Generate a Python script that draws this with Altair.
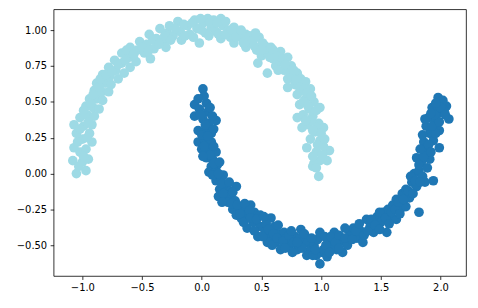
import altair as alt
import pandas as pd

# Upper (light) moon, class 1
light_x = [-1.05, -1.08, -0.97, -1.00, -0.95, -1.02, -1.07, -0.97, -0.92, -1.00, -1.05, -0.94, -1.07, -0.99, -0.92,
           -1.02, -0.96, -0.90, -0.97, -0.91, -0.86,
           -0.94, -0.88, -0.83, -0.90, -0.84, -0.78, -0.88, -0.81, -0.76, -0.83, -0.77, -0.70, -0.78, -0.72, -0.65,
           -0.73, -0.67, -0.60, -0.67, -0.61, -0.55,
           -0.60, -0.54, -0.48, -0.43, -0.52, -0.46, -0.40, -0.44, -0.38, -0.32, -0.35, -0.29, -0.30, -0.24, -0.27,
           -0.20, -0.18, -0.17, -0.12, -0.10, -0.06, -0.04, -0.02, 0.01, 0.03, 0.05, 0.08, 0.10, 0.12, 0.16, 0.16,
           0.18, 0.22, 0.24, 0.27, 0.27, 0.31,
           0.34, 0.37, 0.37, 0.41, 0.44, 0.48, 0.46, 0.50, 0.47, 0.53, 0.55, 0.58, 0.55, 0.60, 0.62, 0.66, 0.66,
           0.69, 0.72, 0.72, 0.72, 0.75, 0.76, 0.80, 0.78, 0.83, 0.87, 0.84, 0.80, 0.91, 0.87, 0.82, 0.94, 0.90,
           0.80, 0.99, 0.85, 0.93, 0.98, 0.89, 0.84, 1.02, 0.95, 0.99, 0.91, 0.88, 1.07, 1.05, 0.96, 1.05, 0.99,
           0.94, 0.93, 0.98,
           -1.03, -0.99, -1.04, -0.96, -1.02, -0.95, -0.99, -0.93, -0.91, -0.86, -0.85, -0.80, -0.75, -0.70,
           -0.64, -0.63, -0.57, -0.50, -0.45, -0.41, -0.36, -0.31, -0.26, -0.22, -0.15, -0.14, -0.08, -0.07,
           -0.01, 0.00, 0.06, 0.07, 0.13, 0.14, 0.20, 0.20, 0.25, 0.29, 0.33, 0.35, 0.40, 0.43, 0.45, 0.51,
           0.50, 0.57, 0.60, 0.63, 0.64, 0.68, 0.70, 0.74, 0.77, 0.79, 0.82, 0.86, 0.88, 0.85, 0.92, 0.89,
           0.96, 0.92, 0.87, 0.96, 1.00, 0.93, 0.97, 1.02, 0.93, 1.01, 0.96, 1.03]
light_y = [0.00, 0.09, 0.02, 0.08, 0.10, 0.15, 0.18, 0.17, 0.22, 0.24, 0.28, 0.28, 0.34, 0.33, 0.34,
           0.39, 0.41, 0.40, 0.47, 0.46, 0.45,
           0.52, 0.52, 0.51, 0.58, 0.57, 0.57, 0.63, 0.63, 0.62, 0.69, 0.68, 0.66, 0.74, 0.72, 0.70,
           0.79, 0.77, 0.74, 0.84, 0.81, 0.78,
           0.88, 0.86, 0.84, 0.80, 0.92, 0.90, 0.87, 0.97, 0.94, 0.92, 1.01, 0.98, 0.88, 0.96, 1.03,
           1.06, 0.99, 0.93, 1.03, 0.97, 1.07, 1.01, 0.91, 1.05, 0.98, 1.08, 1.02, 1.07, 0.99, 1.08, 0.94,
           1.03, 1.00, 0.95, 1.02, 0.91, 0.98,
           0.95, 0.97, 0.88, 0.92, 0.89, 0.95, 0.86, 0.82, 0.77, 0.89, 0.84, 0.88, 0.70, 0.80, 0.75, 0.85, 0.78,
           0.72, 0.81, 0.66, 0.60, 0.75, 0.67, 0.70, 0.62, 0.66, 0.64, 0.58, 0.55, 0.59, 0.52, 0.48, 0.50, 0.45,
           0.39, 0.46, 0.41, 0.40, 0.35, 0.34, 0.32, 0.32, 0.29, 0.23, 0.24, 0.18, 0.16, 0.16, 0.15, 0.09, 0.09,
           0.07, 0.05, -0.02,
           0.05, 0.12, 0.22, 0.25, 0.31, 0.36, 0.44, 0.49, 0.55, 0.60, 0.66, 0.69, 0.71, 0.76,
           0.79, 0.86, 0.83, 0.88, 0.85, 0.93, 0.90, 0.96, 0.93, 1.01, 1.04, 0.96, 1.05, 0.95,
           1.08, 1.00, 0.96, 1.05, 1.05, 0.97, 1.06, 0.97, 1.00, 0.95, 1.00, 0.91, 0.96, 0.93, 0.98, 0.91,
           0.86, 0.81, 0.86, 0.82, 0.72, 0.80, 0.76, 0.70, 0.72, 0.65, 0.60, 0.59, 0.56, 0.50, 0.54, 0.47,
           0.44, 0.37, 0.37, 0.32, 0.28, 0.30, 0.20, 0.19, 0.12, 0.13, 0.04, 0.24]

# Lower (dark) moon, class 0
dark_x = [0.01, -0.06, 0.04, -0.02, 0.05, -0.06, 0.01, 0.12, 0.06, -0.03, 0.03, 0.08, -0.03, 0.02, 0.08,
          0.00, 0.05, 0.12, 0.04, 0.09, 0.08, 0.13, 0.06, 0.11, 0.18, 0.12, 0.16, 0.20, 0.29, 0.15, 0.24,
          0.14, 0.20, 0.24, 0.22, 0.28, 0.32, 0.26, 0.41, 0.35, 0.29, 0.38, 0.33, 0.44, 0.49, 0.58, 0.43,
          0.38, 0.49, 0.54, 0.61, 0.47, 0.53, 0.58, 0.65, 0.69, 0.55, 0.62, 0.66, 0.74, 0.71, 0.83, 0.78,
          0.80, 0.76, 0.85, 0.88, 0.91, 0.88, 0.94, 0.97, 0.99, 0.99, 1.02, 1.01, 0.96, 0.99, 1.06, 1.05,
          1.11, 1.13, 1.09, 1.17, 1.18, 1.22, 1.24, 1.27, 1.30, 1.35, 1.33, 1.38, 1.41, 1.44, 1.47, 1.50,
          1.55, 1.52, 1.56, 1.58, 1.63, 1.63, 1.60, 1.67, 1.68, 1.71, 1.71, 1.74, 1.76, 1.80, 1.82, 1.78,
          1.82, 1.85, 1.87, 1.94, 1.80, 1.84, 1.88, 1.86, 1.91, 1.91, 1.94, 1.99, 1.99, 1.88, 1.90, 1.95,
          1.98, 2.05, 1.98, 2.07, 2.03, 1.93, 2.02,
          0.02, -0.03, 0.07, -0.01, 0.09, 0.03, 0.10, 0.00, 0.05, 0.02, 0.10, 0.07, 0.01, 0.10, 0.15, 0.09,
          0.14, 0.17, 0.23, 0.18, 0.26, 0.17, 0.25, 0.30, 0.32, 0.36, 0.40, 0.35, 0.41, 0.46, 0.52, 0.44,
          0.51, 0.56, 0.60, 0.64, 0.59, 0.63, 0.68, 0.70, 0.73, 0.77, 0.75, 0.82, 0.84, 0.80, 0.86, 0.92,
          0.93, 0.95, 1.03, 1.04, 1.07, 1.08, 1.12, 1.15, 1.15, 1.20, 1.20, 1.26, 1.29, 1.32, 1.36, 1.39,
          1.42, 1.45, 1.49, 1.49, 1.54, 1.57, 1.59, 1.62, 1.65, 1.66, 1.69, 1.73, 1.77, 1.75, 1.79, 1.82,
          1.83, 1.86, 1.89, 1.83, 1.90, 1.92, 1.85, 1.96, 1.93, 1.87, 1.99, 1.95, 2.00, 1.96, 2.04, 1.92]
dark_y = [0.59, 0.48, 0.49, 0.45, 0.43, 0.40, 0.38, 0.37, 0.35, 0.30, 0.30, 0.28, 0.22, 0.24, 0.22,
          0.17, 0.16, 0.15, 0.11, 0.10, 0.05, 0.06, 0.01, 0.01, -0.01, -0.05, -0.04, -0.09, -0.09, -0.11, -0.12,
          -0.16, -0.15, -0.16, -0.20, -0.19, -0.24, -0.25, -0.22, -0.26, -0.29, -0.30, -0.31, -0.27, -0.29, -0.31, -0.34,
          -0.38, -0.37, -0.35, -0.37, -0.44, -0.41, -0.45, -0.42, -0.41, -0.48, -0.48, -0.53, -0.49, -0.45, -0.39, -0.44,
          -0.53, -0.55, -0.47, -0.48, -0.53, -0.57, -0.50, -0.46, -0.41, -0.44, -0.53, -0.55, -0.57, -0.63, -0.48, -0.58,
          -0.41, -0.53, -0.51, -0.47, -0.55, -0.50, -0.41, -0.38, -0.45, -0.48, -0.40, -0.32, -0.37, -0.41, -0.30, -0.34,
          -0.41, -0.27, -0.25, -0.32, -0.18, -0.32, -0.22, -0.24, -0.14, -0.11, -0.23, -0.17, -0.06, -0.09, -0.27, 0.00,
          0.02, -0.02, -0.06, -0.05, 0.11, 0.08, 0.16, 0.22, 0.10, 0.28, 0.23, 0.18, 0.30, 0.33, 0.39, 0.35,
          0.42, 0.47, 0.53, 0.38, 0.44, 0.46, 0.51,
          0.54, 0.52, 0.46, 0.41, 0.40, 0.34, 0.31, 0.27, 0.26, 0.19, 0.19, 0.13, 0.12, 0.07, 0.08, -0.01,
          0.00, -0.07, -0.06, -0.14, -0.13, -0.20, -0.21, -0.22, -0.28, -0.21, -0.26, -0.34, -0.31, -0.32, -0.30, -0.40,
          -0.44, -0.39, -0.42, -0.36, -0.50, -0.45, -0.47, -0.52, -0.43, -0.48, -0.40, -0.45, -0.52, -0.48, -0.42, -0.45,
          -0.57, -0.53, -0.44, -0.50, -0.55, -0.44, -0.48, -0.43, -0.52, -0.45, -0.38, -0.46, -0.40, -0.35, -0.43, -0.40,
          -0.32, -0.36, -0.39, -0.27, -0.31, -0.35, -0.27, -0.25, -0.20, -0.28, -0.18, -0.12, -0.14, -0.02, -0.05, 0.06,
          -0.06, 0.12, 0.04, 0.17, 0.20, 0.15, 0.27, 0.28, 0.33, 0.38, 0.36, 0.41, 0.46, 0.49, 0.41, 0.42]

rows = []
n = max(len(light_x), len(dark_x))
for i in range(n):
    if i < len(dark_x):
        rows.append({"x": dark_x[i], "y": dark_y[i], "c": 0})
    if i < len(light_x):
        rows.append({"x": light_x[i], "y": light_y[i], "c": 1})
df = pd.DataFrame(rows)
df["order"] = range(len(df))

x_ticks = [-1.0, -0.5, 0.0, 0.5, 1.0, 1.5, 2.0]
y_ticks = [-0.5, -0.25, 0.0, 0.25, 0.5, 0.75, 1.0]

chart = alt.Chart(df).mark_circle(size=95, opacity=1).encode(
    x=alt.X("x:Q", scale=alt.Scale(domain=[-1.241, 2.214], nice=False, zero=False),
            axis=alt.Axis(values=x_ticks, format=".1f", title=None)),
    y=alt.Y("y:Q", scale=alt.Scale(domain=[-0.714, 1.145], nice=False, zero=False),
            axis=alt.Axis(values=y_ticks, format=".2f", title=None)),
    color=alt.Color("c:N", scale=alt.Scale(domain=[0, 1], range=["#1f77b4", "#9edae5"]), legend=None),
    order=alt.Order("order:Q"),
).properties(
    width=416, height=269,
    autosize=alt.AutoSizeParams(type="none"),
    padding={"left": 46, "top": 0, "right": 4, "bottom": 31},
).configure_view(
    stroke="#000000", strokeWidth=0.8
).configure_axis(
    grid=False, domain=False, tickColor="#000000", tickSize=3.5, tickWidth=0.8,
    labelFont="DejaVu Sans", labelFontSize=10, labelColor="#000000", labelPadding=3.5,
)

chart.save("out.html", embed_options={"renderer": "svg", "actions": False})
